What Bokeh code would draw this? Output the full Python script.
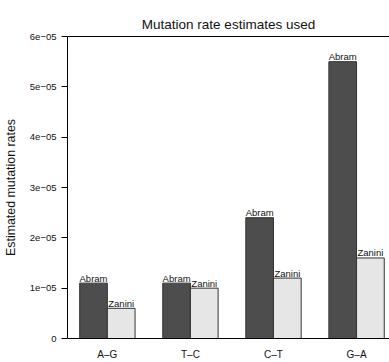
from bokeh.plotting import figure
from bokeh.models import Range1d, LinearAxis, FixedTicker, CustomJSTickFormatter, ColumnDataSource
from bokeh.core.properties import value
from bokeh.embed import file_html
from bokeh.resources import INLINE

# ---- data ----
categories = ["A–G", "T–C", "C–T", "G–A"]
series_names = ["Abram", "Zanini"]
abram = [1.1e-05, 1.1e-05, 2.4e-05, 5.5e-05]
zanini = [0.6e-05, 1.0e-05, 1.2e-05, 1.6e-05]
y_ticks = [0, 1e-05, 2e-05, 3e-05, 4e-05, 5e-05, 6e-05]
y_tick_labels = ["0", "1e−05", "2e−05", "3e−05", "4e−05", "5e−05", "6e−05"]

FONT = "Liberation Sans"

# R barplot(beside=TRUE) layout: two bars of width 1 per group, gap 1
centers = [2 + 3 * i for i in range(len(categories))]
x_abram = [c - 0.5 for c in centers]
x_zanini = [c + 0.5 for c in centers]

src_a = ColumnDataSource(dict(x=x_abram, top=abram, name=[series_names[0]] * len(abram)))
src_z = ColumnDataSource(dict(x=x_zanini, top=zanini, name=[series_names[1]] * len(zanini)))

p = figure(width=389, height=362, output_backend="svg", toolbar_location=None,
           x_range=Range1d(0.56, 12.19), y_range=Range1d(0, 6e-05),
           x_axis_type=None, y_axis_type=None,
           min_border_left=67, min_border_right=0, min_border_top=36, min_border_bottom=21)
p.styles = {"position": "absolute", "left": "0px", "top": "0px"}
p.outline_line_color = None
p.background_fill_color = "white"
p.border_fill_color = "white"

p.title.text = "Mutation rate estimates used"
p.title.text_font = FONT
p.title.text_font_size = "13.5px"
p.title.text_font_style = "normal"
p.title.text_color = "#111111"
p.title.align = "center"
p.title.offset = 3

p.vbar(x="x", top="top", width=1, bottom=0, source=src_a,
       fill_color="#4d4d4d", line_color="#333333", line_width=1)
p.vbar(x="x", top="top", width=1, bottom=0, source=src_z,
       fill_color="#e6e6e6", line_color="#333333", line_width=1)

for src in (src_a, src_z):
    p.text(x="x", y="top", text="name", source=src, text_align="center",
           text_baseline="bottom", y_offset=0.5, text_font=value(FONT),
           text_font_size="9.5px", text_color="#111111")

# y axis
yfmt = CustomJSTickFormatter(args=dict(labels=y_tick_labels, tvals=y_ticks), code="""
const i = tvals.findIndex(t => Math.abs(t - tick) < 1e-12);
return i >= 0 ? labels[i] : '';
""")
yaxis = LinearAxis(ticker=FixedTicker(ticks=y_ticks), formatter=yfmt,
                   axis_label="Estimated mutation rates")
yaxis.minor_tick_line_color = None
yaxis.major_tick_out = 6
yaxis.major_tick_in = 0
yaxis.major_label_standoff = 5
yaxis.major_label_text_font = FONT
yaxis.major_label_text_font_size = "9.5px"
yaxis.major_label_text_color = "#111111"
yaxis.axis_label_text_font = FONT
yaxis.axis_label_text_font_size = "12.4px"
yaxis.axis_label_text_font_style = "normal"
yaxis.axis_label_text_color = "#111111"
yaxis.axis_label_standoff = 9
yaxis.axis_line_color = "black"
yaxis.major_tick_line_color = "black"
p.add_layout(yaxis, "left")

# x axis (category names, no ticks)
xfmt = CustomJSTickFormatter(args=dict(labels=categories, tvals=centers), code="""
const i = tvals.findIndex(t => Math.abs(t - tick) < 1e-9);
return i >= 0 ? labels[i] : '';
""")
xaxis = LinearAxis(ticker=FixedTicker(ticks=centers), formatter=xfmt)
xaxis.minor_tick_line_color = None
xaxis.major_tick_line_color = None
xaxis.major_tick_out = 0
xaxis.major_tick_in = 0
xaxis.major_label_standoff = 10
xaxis.major_label_text_font = FONT
xaxis.major_label_text_font_size = "10px"
xaxis.major_label_text_color = "#111111"
xaxis.axis_line_color = "black"
p.add_layout(xaxis, "below")

# top frame line
top = LinearAxis(ticker=FixedTicker(ticks=[]))
top.major_tick_line_color = None
top.minor_tick_line_color = None
top.major_label_text_font_size = "0px"
top.axis_line_color = "black"
p.add_layout(top, "above")

open("out.html", "w").write(file_html(p, INLINE))
